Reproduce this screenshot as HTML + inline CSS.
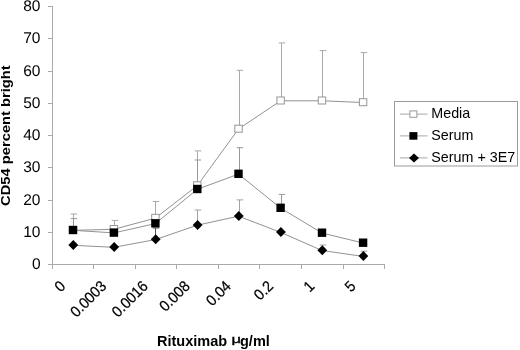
<!DOCTYPE html><html><head><meta charset="utf-8"><title>chart</title><style>html,body{margin:0;padding:0;background:#fff}svg{display:block}text{font-family:"Liberation Sans",sans-serif;fill:#000}</style></head><body>
<svg width="520" height="350" viewBox="0 0 520 350">
<rect width="520" height="350" fill="#fff"/>
<g stroke="#a9a9a9" stroke-width="1" fill="none">
<path d="M52.5 6V264.5H385"/>
<path d="M48 264.5H52.5"/>
<path d="M48 232.5H52.5"/>
<path d="M48 200.5H52.5"/>
<path d="M48 167.5H52.5"/>
<path d="M48 135.5H52.5"/>
<path d="M48 103.5H52.5"/>
<path d="M48 71.5H52.5"/>
<path d="M48 38.5H52.5"/>
<path d="M48 6.5H52.5"/>
<path d="M52.5 264.5V269"/>
<path d="M93.5 264.5V269"/>
<path d="M135.5 264.5V269"/>
<path d="M176.5 264.5V269"/>
<path d="M218.5 264.5V269"/>
<path d="M259.5 264.5V269"/>
<path d="M301.5 264.5V269"/>
<path d="M343.5 264.5V269"/>
<path d="M384.5 264.5V269"/>
</g>
<text x="40.5" y="269.0" font-size="15.5" text-anchor="end" style="text-rendering:geometricPrecision">0</text>
<text x="40.5" y="237.0" font-size="15.5" text-anchor="end" style="text-rendering:geometricPrecision">10</text>
<text x="40.5" y="205.0" font-size="15.5" text-anchor="end" style="text-rendering:geometricPrecision">20</text>
<text x="40.5" y="172.0" font-size="15.5" text-anchor="end" style="text-rendering:geometricPrecision">30</text>
<text x="40.5" y="140.0" font-size="15.5" text-anchor="end" style="text-rendering:geometricPrecision">40</text>
<text x="40.5" y="108.0" font-size="15.5" text-anchor="end" style="text-rendering:geometricPrecision">50</text>
<text x="40.5" y="76.0" font-size="15.5" text-anchor="end" style="text-rendering:geometricPrecision">60</text>
<text x="40.5" y="43.0" font-size="15.5" text-anchor="end" style="text-rendering:geometricPrecision">70</text>
<text x="40.5" y="11.0" font-size="15.5" text-anchor="end" style="text-rendering:geometricPrecision">80</text>
<text transform="translate(59.1 279.7) rotate(-45) scale(1 1.07)" font-size="14.3" text-anchor="end" dy="0.68em" stroke="#000" stroke-width="0.2">0</text>
<text transform="translate(100.0 279.7) rotate(-45) scale(1 1.07)" font-size="14.3" text-anchor="end" dy="0.68em" stroke="#000" stroke-width="0.2">0.0003</text>
<text transform="translate(141.5 279.7) rotate(-45) scale(1 1.07)" font-size="14.3" text-anchor="end" dy="0.68em" stroke="#000" stroke-width="0.2">0.0016</text>
<text transform="translate(183.4 279.7) rotate(-45) scale(1 1.07)" font-size="14.3" text-anchor="end" dy="0.68em" stroke="#000" stroke-width="0.2">0.008</text>
<text transform="translate(224.6 279.7) rotate(-45) scale(1 1.07)" font-size="14.3" text-anchor="end" dy="0.68em" stroke="#000" stroke-width="0.2">0.04</text>
<text transform="translate(266.7 279.7) rotate(-45) scale(1 1.07)" font-size="14.3" text-anchor="end" dy="0.68em" stroke="#000" stroke-width="0.2">0.2</text>
<text transform="translate(308.1 279.7) rotate(-45) scale(1 1.07)" font-size="14.3" text-anchor="end" dy="0.68em" stroke="#000" stroke-width="0.2">1</text>
<text transform="translate(349.2 279.7) rotate(-45) scale(1 1.07)" font-size="14.3" text-anchor="end" dy="0.68em" stroke="#000" stroke-width="0.2">5</text>
<text transform="translate(10.4 135.6) rotate(-90) scale(1.015 0.93)" font-size="14.5" font-weight="bold" text-anchor="middle">CD54 percent bright</text>
<text x="157" y="346.2" font-size="14.5" font-weight="bold">Rituximab</text>
<text transform="translate(231.6 342.8) scale(1.4 1)" font-size="11.8" stroke="#000" stroke-width="0.35">μ</text>
<text x="240" y="346.2" font-size="14.5" font-weight="bold">g/ml</text>
<path d="M73.5 230.0V214.0M70.7 214.0H77.2" stroke="#aaa" stroke-width="1" fill="none"/>
<path d="M114.5 229.0V220.4M111.7 220.4H118.2" stroke="#aaa" stroke-width="1" fill="none"/>
<path d="M155.5 217.8V201.5M152.7 201.5H159.2" stroke="#aaa" stroke-width="1" fill="none"/>
<path d="M197.5 185.3V150.9M194.7 150.9H201.2" stroke="#aaa" stroke-width="1" fill="none"/>
<path d="M239.5 128.7V70.3M236.7 70.3H243.2" stroke="#aaa" stroke-width="1" fill="none"/>
<path d="M281.5 100.5V42.9M278.7 42.9H285.2" stroke="#aaa" stroke-width="1" fill="none"/>
<path d="M322.5 100.5V50.6M319.7 50.6H326.2" stroke="#aaa" stroke-width="1" fill="none"/>
<path d="M363.5 102.2V52.6M360.7 52.6H367.2" stroke="#aaa" stroke-width="1" fill="none"/>
<path d="M73.5 230.0V218.6M70.7 218.6H77.2" stroke="#999" stroke-width="1" fill="none"/>
<path d="M197.5 189.0V160.0M194.7 160.0H201.2" stroke="#999" stroke-width="1" fill="none"/>
<path d="M239.5 173.8V147.7M236.7 147.7H243.2" stroke="#999" stroke-width="1" fill="none"/>
<path d="M281.5 207.8V194.4M278.7 194.4H285.2" stroke="#999" stroke-width="1" fill="none"/>
<path d="M155.5 239.3V228.0M152.7 228.0H159.2" stroke="#555" stroke-width="1" fill="none"/>
<path d="M197.5 224.9V210.0M194.7 210.0H201.2" stroke="#a2a2a2" stroke-width="1" fill="none"/>
<path d="M239.5 215.9V199.9M236.7 199.9H243.2" stroke="#a2a2a2" stroke-width="1" fill="none"/>
<path d="M322.5 250.2V245.0M319.7 245.0H326.2" stroke="#a2a2a2" stroke-width="1" fill="none"/>
<path d="M363.5 256.1V251.2M360.7 251.2H367.2" stroke="#a2a2a2" stroke-width="1" fill="none"/>
<polyline points="73.0,230.3 113.9,229.3 155.4,218.1 197.3,185.6 238.5,129.0 280.6,100.8 322.0,100.8 363.1,102.5" stroke="#929292" stroke-width="1" fill="none"/>
<rect x="69.3" y="226.5" width="7.4" height="7" fill="#fff" stroke="#969696" stroke-width="1"/>
<rect x="110.2" y="225.5" width="7.4" height="7" fill="#fff" stroke="#969696" stroke-width="1"/>
<rect x="151.7" y="214.3" width="7.4" height="7" fill="#fff" stroke="#969696" stroke-width="1"/>
<rect x="193.6" y="181.8" width="7.4" height="7" fill="#fff" stroke="#969696" stroke-width="1"/>
<rect x="234.8" y="125.2" width="7.4" height="7" fill="#fff" stroke="#969696" stroke-width="1"/>
<rect x="276.9" y="97.0" width="7.4" height="7" fill="#fff" stroke="#969696" stroke-width="1"/>
<rect x="318.3" y="97.0" width="7.4" height="7" fill="#fff" stroke="#969696" stroke-width="1"/>
<rect x="359.4" y="98.7" width="7.4" height="7" fill="#fff" stroke="#969696" stroke-width="1"/>
<polyline points="73.0,230.3 113.9,232.9 155.4,223.6 197.3,189.3 238.5,174.1 280.6,208.1 322.0,233.0 363.1,243.0" stroke="#929292" stroke-width="1" fill="none"/>
<rect x="68.8" y="225.8" width="8.4" height="8.4" fill="#000"/>
<rect x="109.7" y="228.4" width="8.4" height="8.4" fill="#000"/>
<rect x="151.2" y="219.1" width="8.4" height="8.4" fill="#000"/>
<rect x="193.1" y="184.8" width="8.4" height="8.4" fill="#000"/>
<rect x="234.3" y="169.6" width="8.4" height="8.4" fill="#000"/>
<rect x="276.4" y="203.6" width="8.4" height="8.4" fill="#000"/>
<rect x="317.8" y="228.5" width="8.4" height="8.4" fill="#000"/>
<rect x="358.9" y="238.5" width="8.4" height="8.4" fill="#000"/>
<polyline points="73.0,245.3 113.9,247.3 155.4,239.6 197.3,225.2 238.5,216.2 280.6,232.3 322.0,250.5 363.1,256.4" stroke="#929292" stroke-width="1" fill="none"/>
<path d="M68.4 245.0L73.3 240.0L78.2 245.0L73.3 250.0Z" fill="#000"/>
<path d="M109.3 247.0L114.2 242.0L119.1 247.0L114.2 252.0Z" fill="#000"/>
<path d="M150.8 239.3L155.7 234.3L160.6 239.3L155.7 244.3Z" fill="#000"/>
<path d="M192.7 224.9L197.6 219.9L202.5 224.9L197.6 229.9Z" fill="#000"/>
<path d="M233.9 215.9L238.8 210.9L243.7 215.9L238.8 220.9Z" fill="#000"/>
<path d="M276.0 232.0L280.9 227.0L285.8 232.0L280.9 237.0Z" fill="#000"/>
<path d="M317.4 250.2L322.3 245.2L327.2 250.2L322.3 255.2Z" fill="#000"/>
<path d="M358.5 256.1L363.4 251.1L368.3 256.1L363.4 261.1Z" fill="#000"/>
<rect x="394.5" y="101.5" width="123" height="64.5" fill="#fff" stroke="#9a9a9a" stroke-width="1"/>
<path d="M400 114.1H427.5" stroke="#a8a8a8" stroke-width="1"/>
<path d="M400 135.9H427.5" stroke="#a8a8a8" stroke-width="1"/>
<path d="M400 157.9H427.5" stroke="#a8a8a8" stroke-width="1"/>
<rect x="409.9" y="110.89999999999999" width="7" height="6.4" fill="#fff" stroke="#999"/>
<rect x="409.4" y="132.1" width="8" height="7.6" fill="#000"/>
<path d="M409 157.9L414 153.4L419 157.9L414 162.4Z" fill="#000"/>
<text x="431.3" y="117.6" font-size="14.3">Media</text>
<text x="431.3" y="139.9" font-size="14.3">Serum</text>
<text x="431.3" y="162.1" font-size="14.3">Serum + 3E7</text>
</svg></body></html>
